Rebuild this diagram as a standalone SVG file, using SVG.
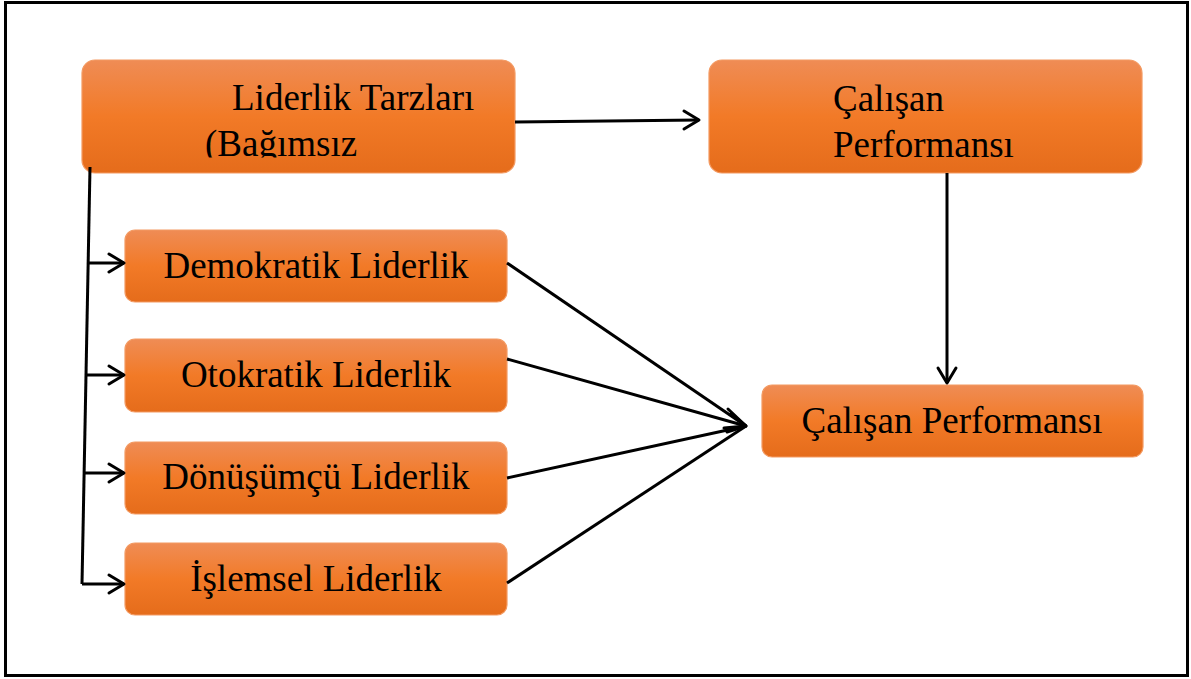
<svg xmlns="http://www.w3.org/2000/svg" width="1191" height="679" viewBox="0 0 1191 679">
<style>
.box{fill:url(#og);stroke:#F39A62;stroke-width:1.2}
.t{font-family:"Liberation Serif","Times New Roman",serif;font-size:37px;fill:#000}
.c{stroke:#000;stroke-width:3;fill:none}
.ah{stroke:#000;stroke-width:3;fill:none;stroke-linecap:round;stroke-linejoin:round}
</style>
<defs>
<linearGradient id="og" x1="0" y1="0" x2="0" y2="1">
<stop offset="0" stop-color="#EF8C55"/>
<stop offset="0.5" stop-color="#F27A27"/>
<stop offset="1" stop-color="#E56C1B"/>
</linearGradient>
<clipPath id="clip1"><rect x="82" y="60" width="434" height="97.5"/></clipPath>
</defs>
<rect x="5.5" y="2.5" width="1182" height="673" fill="#fff" stroke="#000" stroke-width="3"/>
<g id="n-liderlik">
<rect class="box" x="82" y="60" width="433" height="113" rx="13"/>
<text class="t" x="232" y="110">Liderlik Tarzları</text>
<text class="t" x="205" y="156" clip-path="url(#clip1)">(Bağımsız</text>
</g>
<g id="n-calisan-top">
<rect class="box" x="709" y="60" width="433" height="113" rx="13"/>
<text class="t" x="833" y="111">Çalışan</text>
<text class="t" x="833" y="157">Performansı</text>
</g>
<g id="n-demokratik">
<rect class="box" x="125" y="230" width="382" height="72" rx="10"/>
<text class="t" x="316" y="278" text-anchor="middle">Demokratik Liderlik</text>
</g>
<g id="n-otokratik">
<rect class="box" x="125" y="339" width="382" height="73" rx="10"/>
<text class="t" x="316" y="387" text-anchor="middle">Otokratik Liderlik</text>
</g>
<g id="n-donusumcu">
<rect class="box" x="125" y="442" width="382" height="72" rx="10"/>
<text class="t" x="316" y="489" text-anchor="middle">Dönüşümçü Liderlik</text>
</g>
<g id="n-islemsel">
<rect class="box" x="125" y="543" width="382" height="72" rx="10"/>
<text class="t" x="316" y="591" text-anchor="middle">İşlemsel Liderlik</text>
</g>
<g id="n-calisan-bottom">
<rect class="box" x="762" y="385" width="381" height="72" rx="10"/>
<text class="t" x="952" y="433" text-anchor="middle">Çalışan Performansı</text>
</g>
<g id="connectors">
<line class="c" x1="515" y1="122" x2="699" y2="120"/>
<polyline class="ah" points="684,111 699,120 684,129"/>
<line class="c" x1="947" y1="173" x2="947" y2="383"/>
<polyline class="ah" points="938,368 947,383 956,368"/>
<line class="c" x1="90" y1="167" x2="82" y2="584"/>
<line class="c" x1="89" y1="263" x2="124" y2="263"/>
<polyline class="ah" points="109,254 124,263 109,272"/>
<line class="c" x1="86" y1="375" x2="124" y2="375"/>
<polyline class="ah" points="109,366 124,375 109,384"/>
<line class="c" x1="84" y1="473" x2="124" y2="473"/>
<polyline class="ah" points="109,464 124,473 109,482"/>
<line class="c" x1="82" y1="584" x2="124" y2="584"/>
<polyline class="ah" points="109,575 124,584 109,593"/>
<line class="c" x1="507" y1="263" x2="746" y2="426"/>
<line class="c" x1="507" y1="359" x2="746" y2="426"/>
<line class="c" x1="507" y1="478" x2="746" y2="426"/>
<line class="c" x1="507" y1="583" x2="746" y2="426"/>
<polyline class="ah" points="728,409 746,426 724,428"/>
<polyline class="ah" points="731,414 746,426 727,432"/>
</g>
</svg>
